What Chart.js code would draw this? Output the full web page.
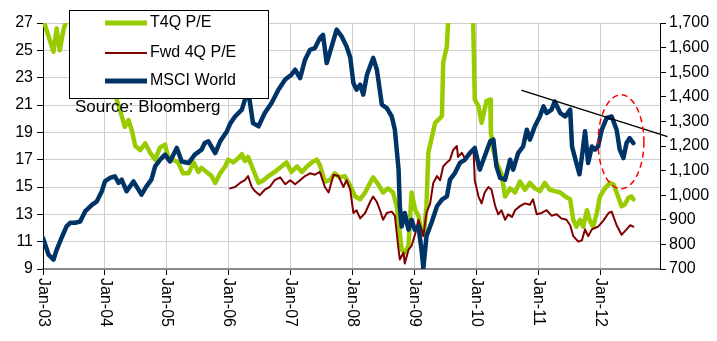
<!DOCTYPE html>
<html>
<head>
<meta charset="utf-8">
<script src="https://cdn.jsdelivr.net/npm/chart.js@4.4.0/dist/chart.umd.min.js"></script>
<style>
  html, body { margin: 0; padding: 0; background: #fff; }
</style>
</head>
<body>
<canvas id="myChart" width="717" height="341"></canvas>
<script>
// x tick labels (one per January)
const tickYears = [2003, 2004, 2005, 2006, 2007, 2008, 2009, 2010, 2011, 2012]
const tickLabels = ["Jan-03", "Jan-04", "Jan-05", "Jan-06", "Jan-07", "Jan-08", "Jan-09", "Jan-10", "Jan-11", "Jan-12"]

// MSCI World index (right axis)
const msciDates = [2003.00,2003.09,2003.17,2003.22,2003.30,2003.38,2003.44,2003.52,2003.60,2003.68,2003.79,2003.87,2003.95,
  2004.00,2004.08,2004.16,2004.22,2004.27,2004.35,2004.46,2004.59,2004.67,2004.75,2004.81,2004.89,2004.97,
  2005.05,2005.16,2005.24,2005.35,2005.45,2005.56,2005.61,2005.67,2005.78,2005.86,2005.97,
  2006.02,2006.10,2006.21,2006.31,2006.39,2006.48,2006.58,2006.69,2006.80,2006.91,
  2007.01,2007.07,2007.15,2007.23,2007.31,2007.39,2007.47,2007.52,2007.58,2007.66,2007.74,2007.82,2007.90,2007.96,
  2008.01,2008.06,2008.12,2008.17,2008.23,2008.28,2008.33,2008.39,2008.47,2008.55,2008.63,2008.68,2008.74,2008.76,2008.79,2008.84,2008.90,2008.95,
  2009.00,2009.06,2009.11,2009.14,2009.19,2009.27,2009.36,2009.44,2009.52,2009.57,2009.65,2009.73,2009.81,2009.89,2009.97,
  2010.05,2010.13,2010.22,2010.27,2010.32,2010.38,2010.46,2010.54,2010.59,2010.67,2010.75,2010.81,2010.86,2010.94,
  2011.02,2011.08,2011.13,2011.21,2011.26,2011.35,2011.43,2011.51,2011.54,2011.61,2011.66,2011.70,2011.75,2011.80,2011.86,2011.91,2011.96,
  2012.02,2012.10,2012.18,2012.26,2012.31,2012.37,2012.42,2012.47,2012.53]
const msciValues = [826,758,738,778,827,873,888,888,893,934,961,975,1016,
  1056,1070,1077,1050,1063,1016,1056,1002,1036,1063,1117,1144,1165,
  1137,1192,1137,1131,1165,1185,1212,1219,1171,1219,1260,
  1290,1320,1348,1429,1293,1280,1334,1375,1429,1470,
  1490,1510,1476,1551,1591,1598,1639,1652,1537,1605,1673,1646,1605,1560,
  1456,1429,1449,1409,1490,1524,1558,1510,1368,1354,1320,1266,1104,955,873,928,860,900,
  860,873,778,704,833,887,955,982,995,1063,1090,1131,1144,1171,1192,
  1104,1158,1219,1226,1117,1070,1063,1144,1104,1171,1198,1266,1226,1280,
  1320,1361,1334,1348,1381,1334,1320,1348,1198,1131,1085,1158,1260,1131,1198,1185,1198,
  1266,1314,1320,1266,1185,1151,1212,1232,1212]

// Trailing 4Q P/E (left axis)
const t4qDates = [2003.00,2003.17,2003.22,2003.27,2003.33,2003.38,2003.50,2003.80,2004.05,2004.12,
  2004.19,2004.27,2004.32,2004.38,2004.43,2004.49,2004.57,2004.65,2004.73,2004.81,2004.89,2004.97,
  2005.02,2005.10,2005.18,2005.26,2005.35,2005.43,2005.51,2005.56,2005.64,2005.72,2005.78,2005.86,2005.94,2005.99,
  2006.07,2006.15,2006.21,2006.26,2006.31,2006.39,2006.48,2006.56,2006.64,2006.74,2006.85,2006.93,
  2007.01,2007.10,2007.18,2007.26,2007.34,2007.42,2007.47,2007.55,2007.63,2007.71,2007.79,2007.87,2007.96,
  2008.04,2008.12,2008.20,2008.28,2008.33,2008.41,2008.49,2008.57,2008.65,2008.71,2008.76,2008.79,2008.84,2008.90,2008.95,
  2009.01,2009.06,2009.11,2009.15,2009.19,2009.22,2009.27,2009.33,2009.38,2009.44,2009.46,2009.52,2009.55,2009.65,2009.80,2009.94,2009.97,
  2010.03,2010.08,2010.16,2010.22,2010.23,2010.27,2010.32,2010.40,2010.46,2010.54,2010.62,2010.70,2010.78,2010.86,2010.94,
  2011.02,2011.10,2011.18,2011.26,2011.35,2011.43,2011.51,2011.56,2011.61,2011.67,2011.72,2011.78,2011.83,2011.88,2011.94,2011.99,
  2012.07,2012.15,2012.21,2012.26,2012.34,2012.39,2012.45,2012.50,2012.53]
const t4qValues = [27.3,24.9,26.6,25.0,26.5,27.2,29,28.5,27.5,26,
  21.4,20.2,19.4,19.9,19.2,18.0,17.7,18.2,17.5,17.0,17.9,18.1,
  17.2,17.0,16.8,16.0,16.0,16.8,16.1,16.4,16.1,15.8,15.3,16.0,16.5,17.0,
  16.8,17.1,17.4,16.9,17.2,16.3,15.3,15.5,15.8,16.1,16.5,16.8,
  16.1,16.5,16.1,16.5,16.8,17.0,16.6,15.4,15.5,16.0,15.7,15.8,15.1,
  14.3,14.1,14.6,15.3,15.7,15.2,14.6,14.9,14.6,13.6,11.6,10.4,10.2,10.7,14.6,
  13.3,12.9,11.6,11.6,13.6,17.5,18.5,19.7,19.9,20.2,24.1,25.3,28,32,32,28,21.4,
  20.9,19.7,21.3,21.4,19.0,17.7,16.8,16.0,14.3,14.9,14.6,15.4,14.8,15.3,14.9,
  14.7,15.3,14.8,14.7,14.6,14.3,14.1,12.6,12.1,12.6,12.1,13.3,12.5,12.1,13.1,14.3,
  14.9,15.3,15.2,14.6,13.6,13.7,14.2,14.3,14.1]

// Forward 4Q P/E (left axis)
const fwdDates = [2006.02,2006.10,2006.18,2006.26,2006.31,2006.37,2006.42,2006.50,2006.58,2006.66,2006.74,2006.83,2006.91,2006.99,
  2007.07,2007.15,2007.23,2007.31,2007.39,2007.47,2007.55,2007.61,2007.69,2007.77,2007.85,2007.90,2007.96,
  2008.01,2008.06,2008.12,2008.20,2008.28,2008.33,2008.39,2008.44,2008.49,2008.55,2008.63,2008.68,2008.74,2008.76,2008.82,2008.84,2008.90,2008.95,
  2009.01,2009.06,2009.11,2009.14,2009.19,2009.25,2009.30,2009.36,2009.41,2009.46,2009.52,2009.57,2009.62,2009.68,2009.70,2009.76,2009.81,2009.89,2009.95,2009.97,
  2010.03,2010.08,2010.13,2010.19,2010.24,2010.30,2010.35,2010.40,2010.46,2010.51,2010.57,2010.62,2010.70,2010.78,2010.86,2010.91,2010.97,
  2011.05,2011.13,2011.21,2011.29,2011.37,2011.45,2011.51,2011.56,2011.64,2011.70,2011.75,2011.80,2011.86,2011.91,2011.96,
  2012.04,2012.13,2012.18,2012.26,2012.34,2012.42,2012.48,2012.53]
const fwdValues = [14.9,15.0,15.3,15.5,15.8,15.0,14.7,14.4,14.8,15.0,15.5,15.7,15.2,15.5,
  15.2,15.5,15.8,16.0,15.9,16.1,15.0,14.6,15.9,15.8,15.0,15.5,14.8,
  13.1,13.3,12.7,13.1,13.9,14.3,13.9,13.3,12.6,13.1,13.2,12.9,10.4,9.7,10.2,9.4,10.4,10.7,
  11.6,12.6,11.9,11.4,13.1,13.8,15.3,15.8,15.5,16.5,16.8,17.0,17.7,18.0,17.2,17.5,17.1,17.5,17.7,15.5,
  14.3,13.8,14.6,15.0,14.8,13.6,13.0,13.3,12.6,13.0,12.8,13.3,13.6,13.8,13.7,14.1,13.0,
  13.1,13.3,12.9,13.0,12.7,12.6,12.2,11.4,11.0,11.1,11.9,11.4,11.9,12.0,12.1,
  12.5,13.1,13.2,12.2,11.5,11.9,12.2,12.1]

// resistance trend line on MSCI World
const trendDates = [2010.73, 2013.07]
const trendValues = [1426, 1239]

const toPoints = (xs, ys) => xs.map((x, i) => ({x: x, y: ys[i]}))
const FONT = '"Liberation Sans", Arial, sans-serif'

const overlay = {
  id: "overlay",
  afterDraw(chart) {
    const ctx = chart.ctx
    const xs = chart.scales.x, y1 = chart.scales.y1
    const area = chart.chartArea

    // x labels, rotated to read top-down
    ctx.save()
    ctx.font = "16px " + FONT
    ctx.fillStyle = "#000"
    ctx.textAlign = "left"
    ctx.textBaseline = "middle"
    tickYears.forEach((yr, i) => {
      ctx.save()
      ctx.translate(xs.getPixelForValue(yr), area.bottom + 9)
      ctx.rotate(Math.PI / 2)
      ctx.fillText(tickLabels[i], 0, 0)
      ctx.restore()
    })
    ctx.restore()

    // red dashed ellipse round the recent highs
    const cx = xs.getPixelForValue(2012.33), cy = y1.getPixelForValue(1217)
    const rx = xs.getPixelForValue(2012.33 + 0.37) - cx
    const ry = y1.getPixelForValue(1217 - 191) - cy
    ctx.save()
    ctx.strokeStyle = "#ff0000"
    ctx.lineWidth = 1.5
    ctx.setLineDash([6, 4])
    ctx.beginPath()
    ctx.ellipse(cx, cy, rx, ry, 0, 0, Math.PI * 2)
    ctx.stroke()
    ctx.restore()

    // source note
    ctx.save()
    ctx.font = "17px " + FONT
    ctx.fillStyle = "#000"
    ctx.textBaseline = "middle"
    ctx.fillText("Source: Bloomberg", 75, 107)
    ctx.restore()

    // legend box
    ctx.save()
    ctx.fillStyle = "#fff"
    ctx.fillRect(69, 10, 199, 88)
    ctx.strokeStyle = "#000"
    ctx.lineWidth = 1
    ctx.strokeRect(69.5, 10.5, 199, 88)
    const items = [
      ["T4Q P/E", "#99cc00", 5, 23],
      ["Fwd 4Q P/E", "#800000", 2, 53],
      ["MSCI World", "#003366", 5, 81]
    ]
    ctx.font = "16px " + FONT
    ctx.textBaseline = "middle"
    items.forEach(it => {
      ctx.strokeStyle = it[1]
      ctx.lineWidth = it[2]
      ctx.beginPath()
      ctx.moveTo(105, it[3])
      ctx.lineTo(147, it[3])
      ctx.stroke()
      ctx.fillStyle = "#000"
      ctx.fillText(it[0], 150, it[3])
    })
    ctx.restore()
  }
}

const gridStyle = {color: "#cfcfcf", borderDash: [2, 2], tickColor: "#000", tickBorderDash: [], tickLength: 6}

const chart = new Chart("myChart", {
  type: "line",
  data: {
    datasets: [{
        label: "Trend",
        data: toPoints(trendDates, trendValues),
        yAxisID: "y1",
        borderColor: "#000",
        borderWidth: 1.5,
        pointRadius: 0,
        clip: false,
        order: 0
      }, {
        label: "MSCI World",
        data: toPoints(msciDates, msciValues),
        yAxisID: "y1",
        borderColor: "#003366",
        borderWidth: 4.5,
        pointRadius: 0,
        order: 1
      }, {
        label: "Fwd 4Q P/E",
        data: toPoints(fwdDates, fwdValues),
        yAxisID: "y",
        borderColor: "#800000",
        borderWidth: 2,
        pointRadius: 0,
        order: 2
      }, {
        label: "T4Q P/E",
        data: toPoints(t4qDates, t4qValues),
        yAxisID: "y",
        borderColor: "#99cc00",
        borderWidth: 4.5,
        pointRadius: 0,
        order: 3
      }
    ]
  },
  options: {
    responsive: false,
    animation: false,
    layout: {padding: {top: 23, left: 0, right: 0, bottom: 0}},
    elements: {line: {tension: 0, borderJoinStyle: "round", borderCapStyle: "round"}},
    plugins: {legend: {display: false}, tooltip: {enabled: false}},
    scales: {
      x: {
        type: "linear",
        min: 2003,
        max: 2012.96,
        afterFit: s => { s.height = 72 },
        border: {display: true, color: "#8a8a8a", width: 2},
        grid: gridStyle,
        ticks: {stepSize: 1, includeBounds: false, color: "rgba(0,0,0,0)", maxRotation: 0, autoSkip: false}
      },
      y: {
        position: "left",
        min: 9,
        max: 27,
        afterFit: s => { s.width = 43 },
        border: {display: true, color: "#000", width: 1},
        grid: gridStyle,
        ticks: {stepSize: 2, color: "#000", padding: 4, font: {family: FONT, size: 16}}
      },
      y1: {
        position: "right",
        min: 700,
        max: 1700,
        afterFit: s => { s.width = 57 },
        border: {display: true, color: "#000", width: 1},
        grid: {drawOnChartArea: false, tickColor: "#000", tickLength: 6},
        ticks: {
          stepSize: 100, color: "#000", padding: 3, font: {family: FONT, size: 16},
          callback: v => v.toLocaleString("en-US")
        }
      }
    }
  },
  plugins: [overlay]
})
</script>
</body>
</html>
